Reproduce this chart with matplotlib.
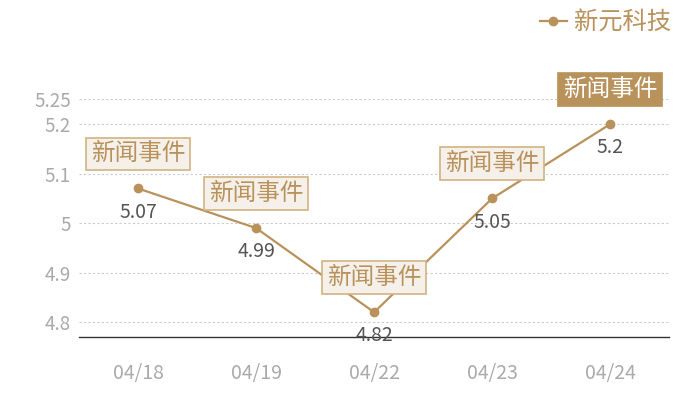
import matplotlib.pyplot as plt

plt.rcParams['font.family'] = ['Noto Sans CJK SC', 'DejaVu Sans']

# --------------------------------------------------
# Data
# --------------------------------------------------
dates = ["04/18", "04/19", "04/22", "04/23", "04/24"]
prices = [5.07, 4.99, 4.82, 5.05, 5.2]
events = ["新闻事件", "新闻事件", "新闻事件", "新闻事件", "新闻事件"]
series_name = "新元科技"
y_ticks = [4.8, 4.9, 5, 5.1, 5.2, 5.25]
y_labels = ["4.8", "4.9", "5", "5.1", "5.2", "5.25"]

gold = "#b8925a"
box_face = "#f5f0ea"
box_edge = "#d2b382"

fig = plt.figure(figsize=(7, 4), dpi=100)
ax = fig.add_axes([0.113, 0.1575, 0.843, 0.594])

x = [i + 0.5 for i in range(len(dates))]
ax.plot(x, prices, color=gold, linewidth=1.6, marker="o", markersize=6,
        label=series_name, zorder=3)

ax.set_xlim(0, len(dates))
ax.set_ylim(4.77, 5.25)
ax.set_xticks(x)
ax.set_xticklabels(dates)
ax.set_yticks(y_ticks)
ax.set_yticklabels(y_labels)

ax.tick_params(axis="x", length=0, pad=19, labelsize=14, labelcolor="#aaaaaa")
ax.tick_params(axis="y", length=0, pad=6, labelsize=13.5, labelcolor="#aaaaaa")

ax.grid(axis="y", linestyle=(0, (2, 2)), color="#cccccc", linewidth=0.8)
for side in ["top", "right", "left"]:
    ax.spines[side].set_visible(False)
ax.spines["bottom"].set_color("#333333")
ax.spines["bottom"].set_linewidth(1.0)

# value labels and event boxes
for i, (xi, val, ev) in enumerate(zip(x, prices, events)):
    ax.annotate(f"{val:g}", (xi, val), xytext=(0, -17), textcoords="offset points",
                ha="center", va="center", fontsize=14, color="#555555", zorder=4)
    last = i == len(prices) - 1
    ax.annotate(ev, (xi, val), xytext=(0, 25), textcoords="offset points",
                ha="center", va="center", fontsize=17,
                color="white" if last else gold,
                bbox=dict(boxstyle="square,pad=0.2",
                          facecolor=gold if last else box_face,
                          edgecolor=gold if last else box_edge, linewidth=1.2),
                annotation_clip=False, zorder=5)

leg = fig.legend(loc="upper right", bbox_to_anchor=(0.99, 1.03), frameon=False,
                 fontsize=17.5, handlelength=1.1, handletextpad=0.3)
for t in leg.get_texts():
    t.set_color(gold)

fig.savefig("out.png", dpi=100)
